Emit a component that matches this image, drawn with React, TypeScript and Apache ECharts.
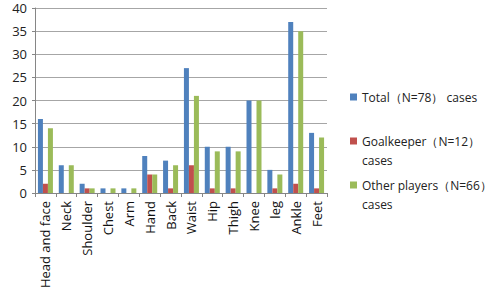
import React, { useEffect, useRef } from "react";
import * as echarts from "echarts";

const categories = ["Head and face", "Neck", "Shoulder", "Chest", "Arm", "Hand", "Back", "Waist", "Hip", "Thigh", "Knee", "leg", "Ankle", "Feet"];
const totalValues = [16, 6, 2, 1, 1, 8, 7, 27, 10, 10, 20, 5, 37, 13];
const goalkeeperValues = [2, 0, 1, 0, 0, 4, 1, 6, 1, 1, 0, 1, 2, 1];
const otherValues = [14, 6, 1, 1, 1, 4, 6, 21, 9, 9, 20, 4, 35, 12];
const seriesNames = ["Total（N=78） cases", "Goalkeeper（N=12） cases", "Other players（N=66） cases"];
const legendLines = [["Total（N=78） cases"], ["Goalkeeper（N=12）", "cases"], ["Other players（N=66）", "cases"]];
const colors = ["#4F81BD", "#C0504D", "#9BBB59"];

const FONT = "'Open Sans', 'Noto Sans', sans-serif";

export default function App() {
  const ref = useRef<HTMLDivElement>(null);
  useEffect(() => {
    const chart = echarts.init(ref.current!, null, { renderer: "svg" });
    const legendTops = [97, 141, 185];
    const graphics: any[] = [];
    legendLines.forEach((lines, i) => {
      graphics.push({
        type: "rect",
        shape: { x: 350, y: legendTops[i] - 3.5, width: 7, height: 7 },
        style: { fill: colors[i] },
      });
      lines.forEach((t, j) => {
        graphics.push({
          type: "text",
          x: 362,
          y: legendTops[i] + j * 19,
          style: { text: t, fill: "#222", font: `12px ${FONT}`, textVerticalAlign: "middle" },
        });
      });
    });
    const data = [totalValues, goalkeeperValues, otherValues];
    chart.setOption({
      animation: false,
      grid: { left: 35, top: 8, right: 173, bottom: 102, containLabel: false },
      xAxis: {
        type: "category",
        data: categories,
        axisLine: { lineStyle: { color: "#868686" } },
        axisTick: { show: true, interval: 0, length: 4, lineStyle: { color: "#868686" } },
        axisLabel: { rotate: 90, interval: 0, color: "#111", fontSize: 13, fontFamily: FONT, margin: 8 },
      },
      yAxis: {
        type: "value",
        min: 0,
        max: 40,
        interval: 5,
        axisLine: { show: true, lineStyle: { color: "#868686" } },
        axisTick: { show: true, length: 3, lineStyle: { color: "#868686" } },
        splitLine: { lineStyle: { color: "#a6a6a6" } },
        axisLabel: { color: "#222", fontSize: 13, fontFamily: FONT, margin: 8 },
      },
      series: data.map((d, i) => ({
        type: "bar",
        name: seriesNames[i],
        data: d,
        barWidth: 5,
        barGap: "0%",
        itemStyle: { color: colors[i] },
      })),
      graphic: graphics,
    });
    return () => chart.dispose();
  }, []);
  return <div ref={ref} style={{ width: 500, height: 295, position: "absolute", left: 0, top: 0, background: "#fff" }} />;
}
